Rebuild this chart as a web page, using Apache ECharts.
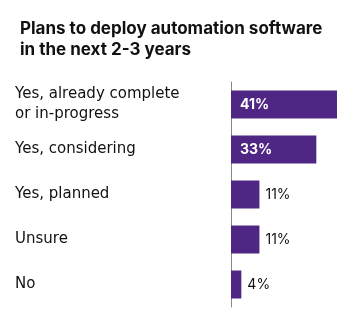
<!DOCTYPE html>
<html><head><meta charset="utf-8">
<script src="https://cdn.jsdelivr.net/npm/echarts@6/dist/echarts.min.js"></script>
<style>html,body{margin:0;padding:0;background:#fff}#c{width:354px;height:328px}</style>
</head><body><div id="c"></div>
<script>
const titleText = "Plans to deploy automation software\nin the next 2-3 years";
const categories = ["Yes, already complete\nor in-progress", "Yes, considering", "Yes, planned", "Unsure", "No"];
const values = [41, 33, 11, 11, 4];
const insideThreshold = 20;

const chart = echarts.init(document.getElementById('c'));
chart.setOption({
  animation: false,
  backgroundColor: '#fff',
  title: {
    text: titleText, left: 15, top: 13,
    textStyle: { fontFamily: 'Inter', fontWeight: 'bold', fontSize: 17, lineHeight: 21, color: '#111' }
  },
  grid: { left: 231, right: 17, top: 82, height: 225 },
  xAxis: { type: 'value', min: 0, max: 41, show: false },
  yAxis: {
    type: 'category', data: categories, inverse: true,
    axisLine: { show: true, lineStyle: { color: '#888', width: 1 } },
    axisTick: { show: false },
    axisLabel: { align: 'left', margin: 216, fontFamily: 'DejaVu Sans', fontSize: 15, lineHeight: 20, color: '#111' }
  },
  series: [{
    type: 'bar', barWidth: 28,
    data: values.map(v => ({
      value: v,
      label: v >= insideThreshold
        ? { show: true, position: 'insideLeft', distance: 9, color: '#fff', fontWeight: 'bold', fontFamily: 'Inter', fontSize: 14, formatter: '{c}%' }
        : { show: true, position: 'right', distance: 6, color: '#111', fontFamily: 'Inter', fontSize: 14, formatter: '{c}%' }
    })),
    itemStyle: { color: '#4f2683' }
  }]
});
</script></body></html>
